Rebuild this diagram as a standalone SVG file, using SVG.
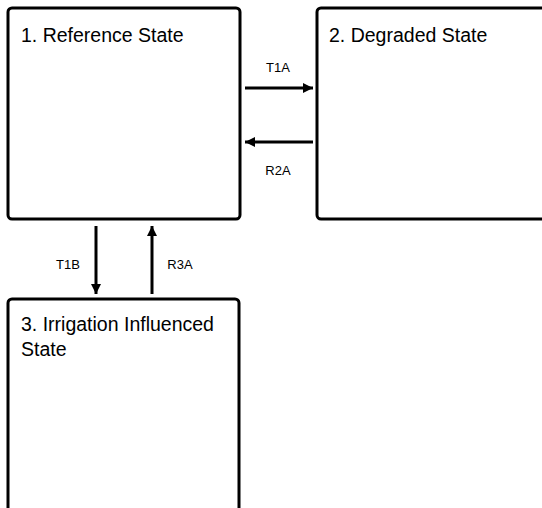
<svg xmlns="http://www.w3.org/2000/svg" width="542" height="508" viewBox="0 0 542 508">
<style>
.box{fill:#fff;stroke:#000;stroke-width:3}
.title{font-family:"Liberation Sans",Arial,sans-serif;font-size:19.5px;fill:#000}
.lbl{font-family:"Liberation Sans",Arial,sans-serif;font-size:13px;fill:#000;text-anchor:middle}
.conn{stroke:#000;stroke-width:3;fill:none}
</style>
<defs>
<marker id="ah" viewBox="0 0 10 10" refX="10" refY="5" markerWidth="10" markerHeight="11" markerUnits="userSpaceOnUse" orient="auto">
<path d="M0,0 L10,5 L0,10 Z" fill="#000"/>
</marker>
</defs>
<rect width="542" height="508" fill="#fff"/>
<g id="node1">
<rect class="box" x="8" y="8" width="232" height="211" rx="4"/>
<text class="title" x="21" y="42">1. Reference State</text>
</g>
<g id="node2">
<rect class="box" x="317" y="8" width="240" height="211" rx="4"/>
<text class="title" x="329" y="42">2. Degraded State</text>
</g>
<g id="node3">
<rect class="box" x="8" y="299" width="231" height="230" rx="4"/>
<text class="title" x="21" y="331">3. Irrigation Influenced</text>
<text class="title" x="21" y="356">State</text>
</g>
<g id="connectors">
<line class="conn" x1="245" y1="88" x2="313" y2="88" marker-end="url(#ah)"/>
<line class="conn" x1="313" y1="142" x2="245" y2="142" marker-end="url(#ah)"/>
<line class="conn" x1="96" y1="226" x2="96" y2="294" marker-end="url(#ah)"/>
<line class="conn" x1="152" y1="294" x2="152" y2="226" marker-end="url(#ah)"/>
<text class="lbl" x="278" y="72">T1A</text>
<text class="lbl" x="278" y="175">R2A</text>
<text class="lbl" x="68" y="269">T1B</text>
<text class="lbl" x="180" y="269">R3A</text>
</g>
</svg>
